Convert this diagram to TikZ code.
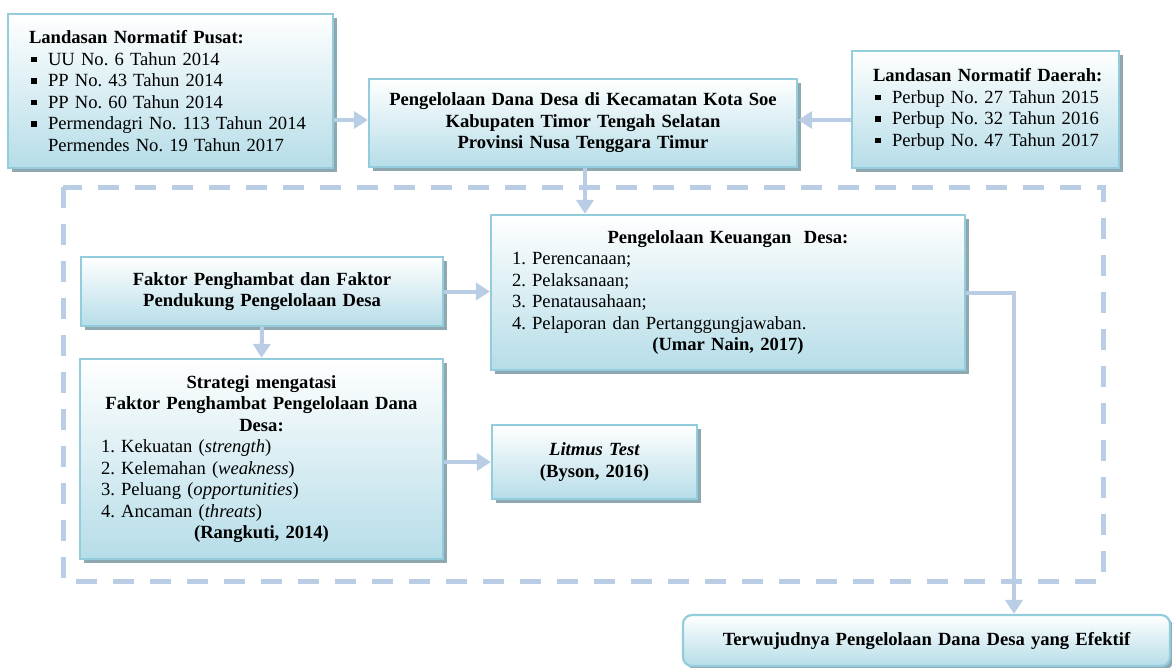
\documentclass[tikz,border=0pt]{standalone}
\usepackage{fontspec}
\setmainfont{Liberation Serif}
\usetikzlibrary{arrows.meta,shadows,calc}
\definecolor{bordc}{HTML}{93CDDD}
\definecolor{fillb}{HTML}{B6DDE8}
\definecolor{shadc}{HTML}{8FA8AF}
\definecolor{arrc}{HTML}{B9CDE5}
\newcommand\bul{\hspace*{2pt}\makebox[17pt][l]{\rule[3pt]{5.5pt}{5.5pt}}}
\newcommand\ind{\hspace*{19pt}}
\tikzset{
  box/.style={draw=bordc, line width=2.2pt, top color=white, bottom color=fillb,
    inner xsep=21pt, inner ysep=0pt,
    drop shadow={shadow xshift=3.5pt, shadow yshift=-3.5pt, fill=shadc, opacity=1},
    font=\fontsize{18.6}{21.5}\selectfont},
  boldbox/.style={box, inner xsep=4pt, align=center, font=\fontsize{18.6}{21.5}\selectfont\bfseries},
  arr/.style={draw=arrc, line width=4pt, -{Triangle[length=14pt,width=17pt]}},
  dashbox/.style={draw=arrc, line width=5pt, dash pattern=on 21pt off 16pt}
}
\begin{document}
\frenchspacing
\begin{tikzpicture}[x=1pt,y=-1pt]
\useasboundingbox (0,0) rectangle (1172,667);
\draw[dashbox] (63,187) rectangle (1103,581);

\node[box, minimum width=325, minimum height=154, text width=283, align=left] (pusat) at (170.5,91)
 {\mbox{\textbf{Landasan Normatif Pusat:}}\\
  \mbox{\bul UU No. 6 Tahun 2014}\\
  \mbox{\bul PP No. 43 Tahun 2014}\\
  \mbox{\bul PP No. 60 Tahun 2014}\\
  \mbox{\bul Permendagri No. 113 Tahun 2014}\\
  \mbox{\ind Permendes No. 19 Tahun 2017}};

\node[boldbox, minimum width=428, minimum height=88, text width=420] (main) at (583,123)
 {Pengelolaan Dana Desa di Kecamatan Kota Soe\\
  Kabupaten Timor Tengah Selatan\\
  Provinsi Nusa Tenggara Timur};

\node[box, minimum width=267, minimum height=117, text width=225, align=left] (daerah) at (985.5,109.5)
 {\mbox{\textbf{Landasan Normatif Daerah:}}\\
  \mbox{\bul Perbup No. 27 Tahun 2015}\\
  \mbox{\bul Perbup No. 32 Tahun 2016}\\
  \mbox{\bul Perbup No. 47 Tahun 2017}};

\node[box, minimum width=474, minimum height=155, text width=432, align=left] (keu) at (728,292.5)
 {\makebox[432pt][c]{\textbf{Pengelolaan Keuangan\ \ Desa:}}\\
  1. Perencanaan;\\
  2. Pelaksanaan;\\
  3. Penatausahaan;\\
  4. Pelaporan dan Pertanggungjawaban.\\
  \makebox[432pt][c]{\textbf{(Umar Nain, 2017)}}};

\node[boldbox, minimum width=362, minimum height=69, text width=354] (faktor) at (262,291.5)
 {Faktor Penghambat dan Faktor\\
  Pendukung Pengelolaan Desa};

\node[box, minimum width=363, minimum height=200, text width=321, align=left] (strategi) at (261.5,459)
 {\makebox[321pt][c]{\textbf{Strategi mengatasi}}\\
  \makebox[321pt][c]{\textbf{Faktor Penghambat Pengelolaan Dana}}\\
  \makebox[321pt][c]{\textbf{Desa:}}\\
  1. Kekuatan (\textit{strength})\\
  2. Kelemahan (\textit{weakness})\\
  3. Peluang (\textit{opportunities})\\
  4. Ancaman (\textit{threats})\\
  \makebox[321pt][c]{\textbf{(Rangkuti, 2014)}}};

\node[boldbox, minimum width=205, minimum height=74, text width=197] (litmus) at (594.5,462)
 {\textit{Litmus Test}\\
  (Byson, 2016)};

\node[boldbox, rounded corners=9pt, minimum width=487, minimum height=51, text width=479] (final) at (926.5,640.5)
 {Terwujudnya Pengelolaan Dana Desa yang Efektif};

\draw[arr] ([yshift=3pt]pusat.east |- main.west) -- ([yshift=3pt]main.west);
\draw[arr] ([yshift=3pt]daerah.west |- main.east) -- ([yshift=3pt]main.east);
\draw[arr] ([xshift=2pt]main.south) -- ([xshift=2pt]main.south |- keu.north);
\draw[arr] (faktor.east) -- (faktor.east -| keu.west);
\draw[arr] (faktor.south) -- (strategi.north);
\draw[arr] (strategi.east |- litmus.west) -- (litmus.west);
\coordinate (turn) at (1014,292.5);
\draw[arr] (keu.east) -- (turn) -- (turn |- final.north);
\end{tikzpicture}
\end{document}
